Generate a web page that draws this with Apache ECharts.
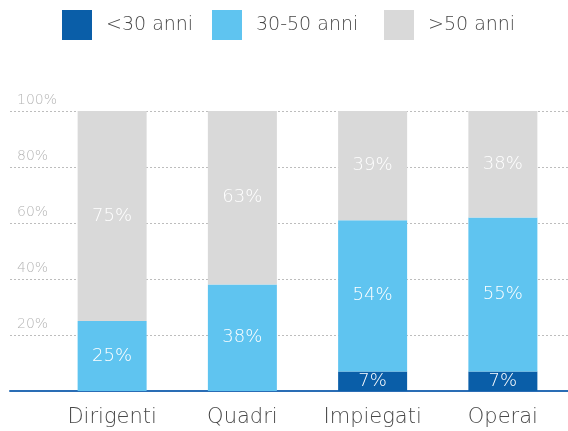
<!DOCTYPE html>
<html>
<head>
<meta charset="utf-8">
<script src="https://cdn.jsdelivr.net/npm/echarts@6/dist/echarts.min.js"></script>
<style>
  html, body { margin: 0; padding: 0; background: #fff; }
  #chart { width: 568px; height: 431px; }
</style>
</head>
<body>
<div id="chart"></div>
<script>
// Age distribution per staff category (percent)
const categories = ['Dirigenti', 'Quadri', 'Impiegati', 'Operai'];
const seriesNames = ['<30 anni', '30-50 anni', '>50 anni'];
const under30 = [0, 0, 7, 7];
const from30to50 = [25, 38, 54, 55];
const over50 = [75, 63, 39, 38];
const yTicks = [0, 20, 40, 60, 80, 100];

const colors = ['#0a5ea8', '#5fc4f0', '#d9d9d9'];
const FONT = '"DejaVu Sans", sans-serif';
const LIGHT = 200;

// horizontal placement of each legend entry
const legendLeft = [62, 212, 384];

const chart = echarts.init(document.getElementById('chart'));

const segLabel = {
  show: true,
  position: 'inside',
  color: '#ffffff',
  fontFamily: FONT,
  fontWeight: LIGHT,
  fontSize: 18,
  formatter: p => (p.value > 0 ? p.value + '%' : '')
};

chart.setOption({
  animation: false,
  color: colors,
  legend: seriesNames.map((name, i) => ({
    left: legendLeft[i],
    top: 10,
    padding: 0,
    itemWidth: 30,
    itemHeight: 30,
    icon: 'rect',
    textStyle: {
      fontFamily: FONT,
      fontWeight: LIGHT,
      fontSize: 19,
      color: '#484848',
      padding: [0, 0, 0, 9]
    },
    data: [name]
  })),
  grid: [
    { left: 10, right: 0, top: 111, bottom: 40 },
    { left: 47, right: -3, top: 111, bottom: 40 }
  ],
  xAxis: [
    {
      gridIndex: 0,
      type: 'value',
      min: 0,
      max: 1,
      axisLine: { show: true, onZero: false, lineStyle: { color: '#2a6db5', width: 2 } },
      axisTick: { show: false },
      axisLabel: { show: false },
      splitLine: { show: false }
    },
    {
      gridIndex: 1,
      type: 'category',
      data: categories,
      axisLine: { show: false },
      axisTick: { show: false },
      axisLabel: { margin: 16, fontFamily: FONT, fontWeight: LIGHT, fontSize: 21, color: '#484848' }
    }
  ],
  yAxis: [
    {
      gridIndex: 0,
      type: 'value',
      min: yTicks[0],
      max: yTicks[yTicks.length - 1],
      interval: yTicks[1] - yTicks[0],
      axisLine: { show: false },
      axisTick: { show: false },
      axisLabel: {
        inside: true,
        margin: 7,
        showMinLabel: false,
        verticalAlign: 'bottom',
        padding: [0, 0, 4, 0],
        fontFamily: FONT,
        fontWeight: LIGHT,
        fontSize: 14,
        color: '#b5b5b5',
        formatter: '{value}%'
      },
      splitLine: { show: true, lineStyle: { color: '#bdbdbd', type: [2, 2], width: 1 } }
    },
    {
      gridIndex: 1,
      type: 'value',
      min: 0,
      max: 100,
      show: false,
      splitLine: { show: false }
    }
  ],
  series: [
    { name: seriesNames[0], type: 'bar', stack: 'age', xAxisIndex: 1, yAxisIndex: 1, barWidth: 69, data: under30, label: segLabel, z: 1 },
    { name: seriesNames[1], type: 'bar', stack: 'age', xAxisIndex: 1, yAxisIndex: 1, barWidth: 69, data: from30to50, label: segLabel, z: 1 },
    { name: seriesNames[2], type: 'bar', stack: 'age', xAxisIndex: 1, yAxisIndex: 1, barWidth: 69, data: over50, label: segLabel, z: 1 }
  ]
});
</script>
</body>
</html>
